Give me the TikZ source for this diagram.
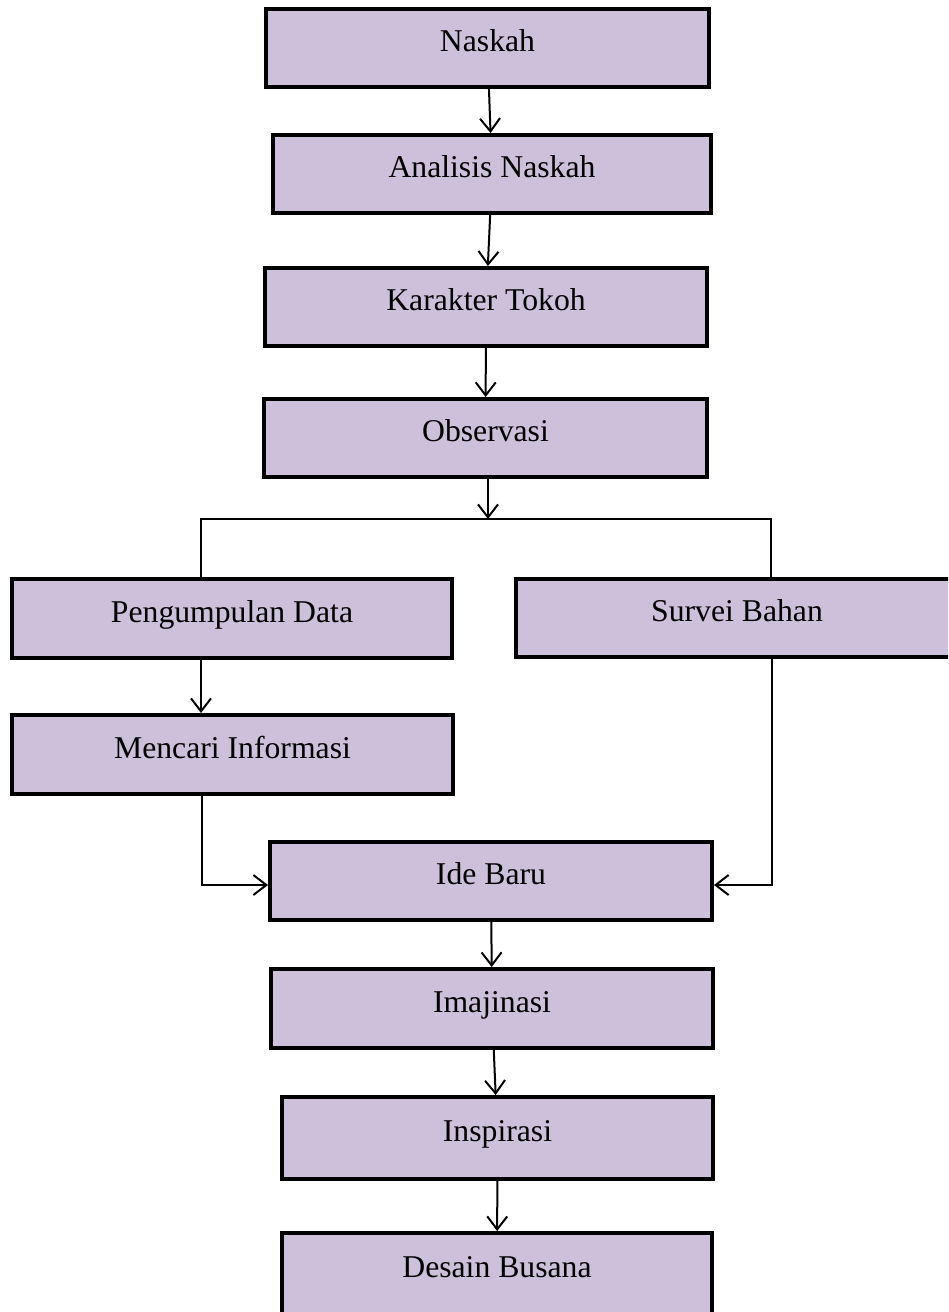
\documentclass[tikz,border=0pt]{standalone}
\usepackage{fontspec}
\setmainfont{Liberation Serif}
\usetikzlibrary{arrows.meta}
\definecolor{lavender}{HTML}{CCC0DA}
\tikzset{
	tahap/.style = {draw, line width = 4pt, fill = lavender, rectangle, inner sep = 0pt, text height = 22pt, text depth = 15pt, font = \fontsize{31.7}{38}\selectfont},
	panah/.style = {-{Straight Barb[length = 13pt, width = 20pt]}, line width = 2pt},
	garis/.style = {line width = 2pt}
}
\newcommand{\tahapan}[2]{
	\node[tahap, minimum width = #1, minimum height = #2]
}

\begin{document}
\begin{tikzpicture}[x = 1pt, y = -1pt]

		\clip (0,0) rectangle (948,1312);

		\tahapan{443}{78} (naskah) at (487.5,48) {Naskah};
		\tahapan{438}{78} (analisis) at (492,174) {Analisis Naskah};
		\tahapan{442}{78} (karakter) at (486,307) {Karakter Tokoh};
		\tahapan{443}{78} (observasi) at (485.5,438) {Observasi};

		\tahapan{440}{79} (pengumpulan) at (232,618.5) {Pengumpulan Data};
		\tahapan{442}{78} (survei) at (737,618) {Survei Bahan};
		\tahapan{441}{79} (mencari) at (232.5,754.5) {Mencari Informasi};

		\tahapan{442}{78} (ide) at (491,881) {Ide Baru};
		\tahapan{442}{79} (imajinasi) at (492,1008.5) {Imajinasi};
		\tahapan{431}{82} (inspirasi) at (497.5,1138) {Inspirasi};
		\tahapan{430}{82} (desain) at (497,1274) {Desain Busana};

		% titik cabang
		\coordinate (split) at (488,519);
		\coordinate (bl) at (201,519);
		\coordinate (br) at (771,519);
		\coordinate (ml) at (202,885);
		\coordinate (mr) at (772,885);

		\draw[panah] (naskah) -- (analisis);
		\draw[panah] (analisis) -- (karakter);
		\draw[panah] (karakter) -- (observasi);
		\draw[panah] (observasi.south -| split) -- (split);
		\draw[garis] (pengumpulan.north -| bl) -- (bl) -- (br) -- (survei.north -| br);

		\draw[panah] (pengumpulan.south -| bl) -- (mencari.north -| bl);
		\draw[panah] (mencari.south -| ml) -- (ml) -- (ide.west |- ml);
		\draw[panah] (survei.south -| mr) -- (mr) -- (ide.east |- mr);

		\draw[panah] (ide) -- (imajinasi);
		\draw[panah] (imajinasi) -- (inspirasi);
		\draw[panah] (inspirasi) -- (desain);
	\end{tikzpicture}
\end{document}
